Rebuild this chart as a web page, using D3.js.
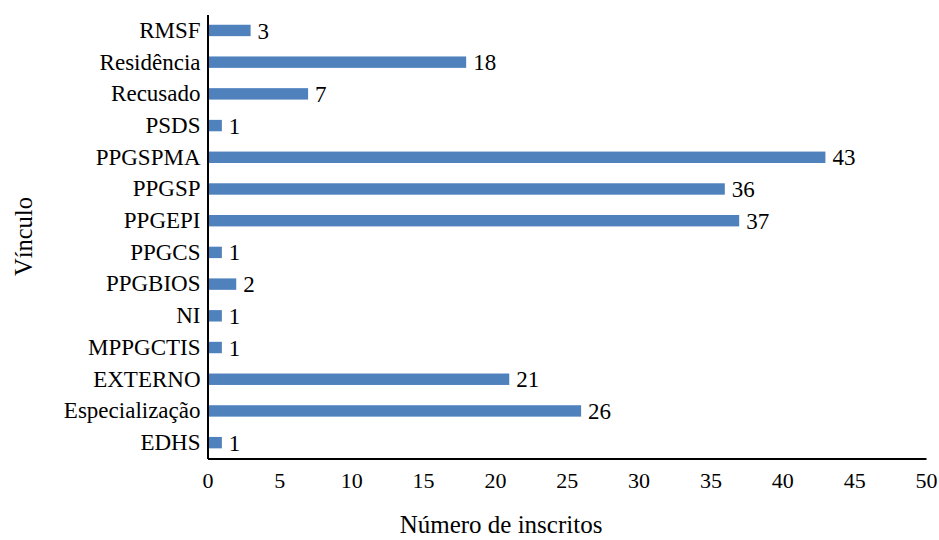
<!DOCTYPE html>
<html>
<head>
<meta charset="utf-8">
<script src="https://cdn.jsdelivr.net/npm/d3@7"></script>
<style>
  body { margin: 0; background: #fff; }
  svg text { font-family: "Liberation Serif", "Times New Roman", serif; }
</style>
</head>
<body>
<div class="graph"></div>
<script>
// categories top to bottom
const categories = ["RMSF", "Residência", "Recusado", "PSDS", "PPGSPMA", "PPGSP", "PPGEPI",
  "PPGCS", "PPGBIOS", "NI", "MPPGCTIS", "EXTERNO", "Especialização", "EDHS"];
const values = [3, 18, 7, 1, 43, 36, 37, 1, 2, 1, 1, 21, 26, 1];
const xTicks = [0, 5, 10, 15, 20, 25, 30, 35, 40, 45, 50];

const width = 939;
const height = 540;
const margin = { top: 14.6, right: 13, bottom: 81.5, left: 207.5 };

const data = categories.map((c, i) => ({ name: c, value: values[i] }));

const svg = d3
  .select(".graph")
  .append("svg")
  .attr("width", width)
  .attr("height", height)
  .attr("viewBox", [0, 0, width, height]);

const x = d3.scaleLinear().domain([0, 50]).range([margin.left, width - margin.right]);
const y = d3
  .scaleBand()
  .domain(categories)
  .range([margin.top, height - margin.bottom])
  .paddingInner(0.64)
  .paddingOuter(0.32);

// bars
svg
  .append("g")
  .attr("fill", "#4f81bd")
  .selectAll()
  .data(data)
  .join("rect")
  .attr("x", x(0))
  .attr("y", (d) => y(d.name))
  .attr("height", y.bandwidth())
  .attr("width", (d) => x(d.value) - x(0));

// value labels
svg
  .append("g")
  .selectAll()
  .data(data)
  .join("text")
  .attr("x", (d) => x(d.value) + 7)
  .attr("y", (d) => y(d.name) + y.bandwidth() / 2)
  .attr("dy", "0.35em")
  .attr("font-size", 23)
  .attr("fill", "#000")
  .text((d) => d.value);

// x axis
const xAxis = svg
  .append("g")
  .attr("transform", `translate(0,${height - margin.bottom})`)
  .call(d3.axisBottom(x).tickValues(xTicks).tickSize(0).tickPadding(14));
xAxis.select(".domain").attr("stroke", "#000").attr("stroke-width", 2);
xAxis.selectAll("text").attr("font-size", 22).attr("fill", "#000");

// y axis
const yAxis = svg
  .append("g")
  .attr("transform", `translate(${margin.left},0)`)
  .call(d3.axisLeft(y).tickSize(0).tickPadding(7));
yAxis.select(".domain").attr("stroke", "#000").attr("stroke-width", 2);
yAxis.selectAll("text").attr("font-size", 23).attr("fill", "#000");

// axis titles
svg
  .append("text")
  .attr("x", 501)
  .attr("y", 533)
  .attr("text-anchor", "middle")
  .attr("font-size", 25)
  .text("Número de inscritos");

svg
  .append("text")
  .attr("transform", `translate(31.5,${(margin.top + height - margin.bottom) / 2}) rotate(-90)`)
  .attr("text-anchor", "middle")
  .attr("font-size", 24.5)
  .text("Vínculo");
</script>
</body>
</html>
